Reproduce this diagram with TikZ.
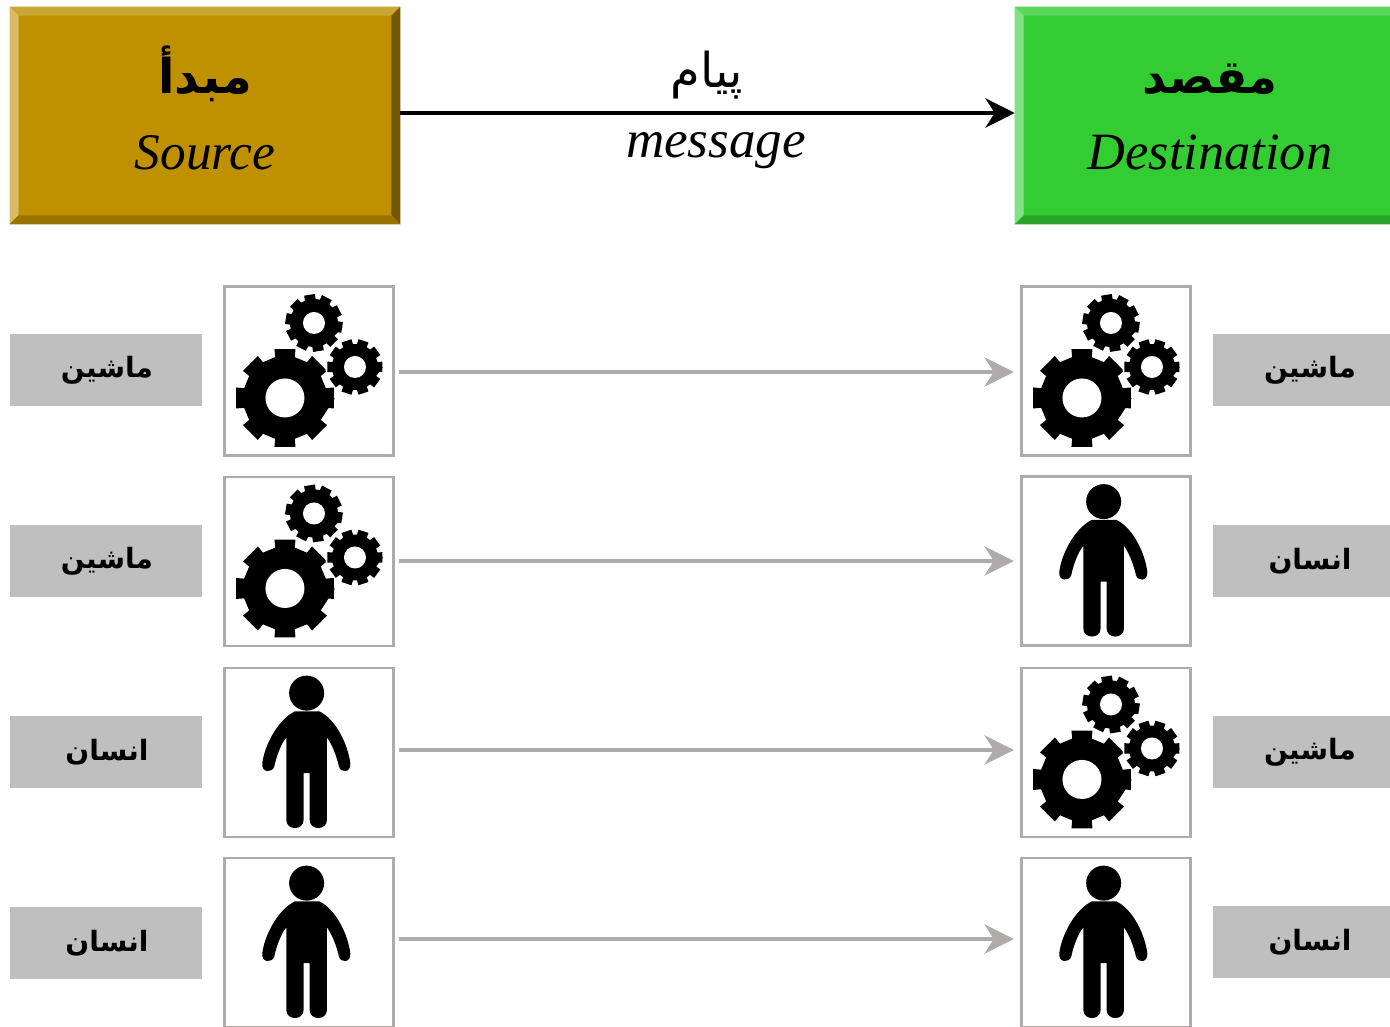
\documentclass[tikz,border=0pt]{standalone}
\usepackage{fontspec}
\setmainfont{Liberation Serif}
\newfontfamily\arabicfont[Script=Arabic]{DejaVu Sans}
\TeXXeTstate=1
\usetikzlibrary{arrows.meta,calc}
\definecolor{srcC}{HTML}{BF9000}
\definecolor{srcT}{HTML}{CCA633}
\definecolor{srcL}{HTML}{D9BC66}
\definecolor{srcR}{HTML}{735700}
\definecolor{srcB}{HTML}{997300}
\definecolor{dstC}{HTML}{33CC33}
\definecolor{dstT}{HTML}{5CD65C}
\definecolor{dstL}{HTML}{85E085}
\definecolor{dstR}{HTML}{29A329}
\definecolor{dstB}{HTML}{29A329}
\definecolor{labelgray}{HTML}{BFBFBF}
\definecolor{boxgray}{HTML}{AFABAB}
% x, y, teeth, root radius, outer radius, rotation, tip fraction, base fraction
\newcommand{\gearshape}[8]{%
  \fill[black] ([shift={(#1,#2)}]#6:#5)
    \foreach \gi [evaluate=\gi as \ga using {#6+\gi*360/#3},
                  evaluate=\gi as \gs using {360/#3}] in {1,...,#3}{
      -- ([shift={(#1,#2)}]{\ga-\gs*#8}:#4)
      -- ([shift={(#1,#2)}]{\ga-\gs*#7}:#5)
      -- ([shift={(#1,#2)}]{\ga+\gs*#7}:#5)
      -- ([shift={(#1,#2)}]{\ga+\gs*#8}:#4)
    } -- cycle;
}
\tikzset{
  x=0.75pt,y=-0.75pt,
  iconbox/.style={draw=boxgray,line width=1.7pt,fill=white,minimum width=126.6pt,minimum height=126.6pt,inner sep=0pt},
  labelbox/.style={fill=labelgray,minimum height=54pt,minimum width=144pt,inner sep=0pt},
  mainbox/.style={minimum width=292.5pt,minimum height=162.75pt,inner sep=0pt},
  bigtext/.style={font=\fontsize{#1}{#1}\selectfont\itshape,anchor=base,inner sep=0pt},
  headar/.style={font=\arabicfont\bfseries\fontsize{#1}{#1}\selectfont,anchor=base,inner sep=0pt},
  msgar/.style={font=\arabicfont\fontsize{36}{36}\selectfont,anchor=base,inner sep=0pt},
  labelar/.style={font=\arabicfont\bfseries\fontsize{21}{21}\selectfont},
  mainarrow/.style={line width=2.6pt,black,-{Stealth[length=22pt,width=22pt,inset=7pt]}},
  grayarrow/.style={line width=2.8pt,boxgray,-{Stealth[length=22pt,width=22pt,inset=7pt]},shorten <=3pt,shorten >=5pt},
  gears/.pic={
    \gearshape{61.5}{112.5}{8}{42}{50}{0}{0.27}{0.3}
    \fill[white] (61.5,112.5) circle[radius=19.5];
    \fill[white] (90.5,37.5) circle[radius=30.5];
    \fill[white] (131.5,81.5) circle[radius=29.5];
    \gearshape{90.5}{37.5}{10}{24}{29}{9}{0.3}{0.36}
    \fill[white] (90.5,37.5) circle[radius=11];
    \gearshape{131.5}{81.5}{10}{23}{28}{0}{0.3}{0.36}
    \fill[white] (131.5,81.5) circle[radius=11];
  },
  person/.pic={
    \begin{scope}[shift={(-10.5,-5.5)},scale=1/3]
      \fill[black] (281,95) circle[radius=52.5];
      \fill[black] (245,150) -- (320,150)
        .. controls (370,175) and (405,250) .. (412,305)
        .. controls (415,335) and (382,335) .. (378,315)
        .. controls (370,280) and (355,245) .. (342,228)
        -- (342,475) .. controls (342,508) and (290,508) .. (290,475)
        -- (290,335) -- (272,335) -- (272,475)
        .. controls (272,508) and (220,508) .. (220,475)
        -- (220,228)
        .. controls (205,245) and (190,285) .. (184,315)
        .. controls (178,335) and (145,335) .. (148,305)
        .. controls (155,250) and (195,175) .. (245,150) -- cycle;
    \end{scope}
  },
}
\newcommand{\bevel}[5]{% name, top, left, right, bottom
  \fill[#2] (#1.north west) -- (#1.north east) -- ($(#1.north east)+(-9,9)$) -- ($(#1.north west)+(9,9)$) -- cycle;
  \fill[#3] (#1.north west) -- (#1.south west) -- ($(#1.south west)+(9,-9)$) -- ($(#1.north west)+(9,9)$) -- cycle;
  \fill[#4] (#1.north east) -- (#1.south east) -- ($(#1.south east)+(-9,-9)$) -- ($(#1.north east)+(-9,9)$) -- cycle;
  \fill[#5] (#1.south west) -- (#1.south east) -- ($(#1.south east)+(-9,-9)$) -- ($(#1.south west)+(9,-9)$) -- cycle;
}
\newcommand{\machineword}{\hspace*{1.5pt}\raisebox{-1.5pt}{\arabicfont\beginR ماشین\endR}}
\newcommand{\humanword}{\hspace*{1.5pt}\raisebox{-1.5pt}{\arabicfont\beginR انسان\endR}}
\begin{document}
\begin{tikzpicture}
\clip (0,0) rectangle (1390,1027);
\fill[white] (0,0) rectangle (1390,1027);
% header boxes
\node[mainbox,fill=srcC] (src) at (205,115.5) {};
\bevel{src}{srcT}{srcL}{srcR}{srcB}
\node[mainbox,fill=dstC] (dst) at (1210,115.5) {};
\bevel{dst}{dstT}{dstL}{dstR}{dstB}
\node[headar=36] (srcfa) at (205,94) {\beginR مبدأ\endR};
\node[bigtext=38.5] (srcen) at (205,170) {Source};
\node[headar=35] (dstfa) at (1210,94) {\beginR مقصد\endR};
\node[bigtext=39.3] (dsten) at (1210,170) {Destination};
\draw[mainarrow] (src.east |- 0,113) -- (dst.west |- 0,113);
\node[msgar] (msgfa) at (707,88) {\beginR پیام\endR};
\node[bigtext=39.8] (msgen) at (716,158) {message};
% icon boxes
\node[iconbox] (s1) at (309,371) {};
\node[iconbox] (s2) at (309,561.5) {};
\node[iconbox] (s3) at (309,752.5) {};
\node[iconbox] (s4) at (309,942.5) {};
\node[iconbox] (d1) at (1106,371) {};
\node[iconbox] (d2) at (1106,561) {};
\node[iconbox] (d3) at (1106,752.5) {};
\node[iconbox] (d4) at (1106,942.5) {};
\path (s1.north west) pic {gears};
\path (s2.north west) pic {gears};
\path (s3.north west) pic {person};
\path (s4.north west) pic {person};
\path (d1.north west) pic {gears};
\path (d2.north west) pic {person};
\path (d3.north west) pic {gears};
\path (d4.north west) pic {person};
% labels
\node[labelbox,labelar] (ls1) at (106,370) {\machineword};
\node[labelbox,labelar] (ls2) at (106,561) {\machineword};
\node[labelbox,labelar] (ls3) at (106,752) {\humanword};
\node[labelbox,labelar] (ls4) at (106,943) {\humanword};
\node[labelbox,labelar] (ld1) at (1309,370) {\machineword};
\node[labelbox,labelar] (ld2) at (1309,561) {\humanword};
\node[labelbox,labelar] (ld3) at (1309,752) {\machineword};
\node[labelbox,labelar] (ld4) at (1309,942) {\humanword};
% connectors
\draw[grayarrow] (s1.east |- 0,372) -- (d1.west |- 0,372);
\draw[grayarrow] (s2.east |- 0,561) -- (d2.west |- 0,561);
\draw[grayarrow] (s3.east |- 0,750) -- (d3.west |- 0,750);
\draw[grayarrow] (s4.east |- 0,939) -- (d4.west |- 0,939);
\end{tikzpicture}
\end{document}
